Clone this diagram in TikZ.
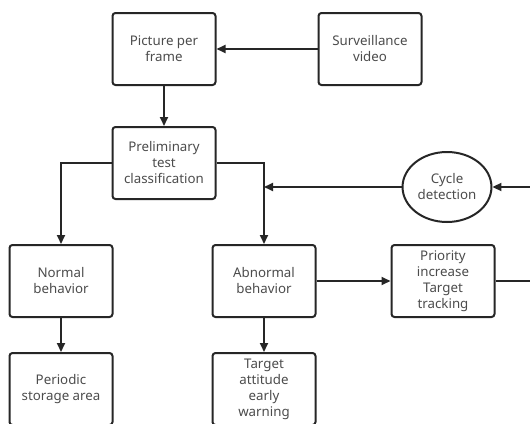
\documentclass[tikz,border=0pt]{standalone}
\usepackage{fontspec}
\setmainfont{Noto Sans}
\usetikzlibrary{arrows.meta,shapes.geometric}

\tikzset{
  box/.style={draw=black!85, line width=2pt, rounded corners=3pt, fill=white,
    minimum width=103pt, minimum height=72pt, inner sep=2pt,
    align=center, text=black!70, font=\fontsize{13.3}{16}\selectfont},
  cyclenode/.style={box, ellipse, rounded corners=0pt, minimum width=82pt, minimum height=70pt},
  line/.style={draw=black!85, line width=2pt},
  link/.style={line, -{Triangle[length=9pt,width=8pt]}},
}

\begin{document}
\begin{tikzpicture}[x=1pt, y=-1pt]

    % 画布大小
    \clip (0,0) rectangle (530,423);
    \fill[white] (0,0) rectangle (530,423);

    % 上层方框
    \node[box] (frame) at (164,49) {Picture per\\frame};
    \node[box] (video) at (370,49) {Surveillance\\video};
    \node[box] (pre) at (164,163) {Preliminary\\test\\classification};
    \node[cyclenode] (cyc) at (447,187) {Cycle\\detection};

    % 中层方框
    \node[box] (normal) at (61,281) {Normal\\behavior};
    \node[box] (abn) at (264,281) {Abnormal\\behavior};
    \node[box] (pri) at (443,281) {Priority\\increase\\Target\\tracking};

    % 下层方框
    \node[box] (store) at (61,389) {Periodic\\storage area};
    \node[box] (warn) at (264,389) {Target\\attitude\\early\\warning};

    % 边缘端点
    \coordinate (inR) at (531,187);
    \coordinate (outR) at (531,281);

    % 连线
    \draw[link] (video) -- (frame);
    \draw[link] (frame) -- (pre);
    \draw[link] (pre.west) -| (normal.north);
    \draw[link] (pre.east) -| (abn.north);
    \draw[link] (cyc.west) -- (cyc.west -| abn.north);
    \draw[link] (inR) -- (cyc.east);
    \draw[link] (abn) -- (pri);
    \draw[line] (pri.east) -- (outR);
    \draw[link] (normal) -- (store);
    \draw[link] (abn) -- (warn);

\end{tikzpicture}
\end{document}
